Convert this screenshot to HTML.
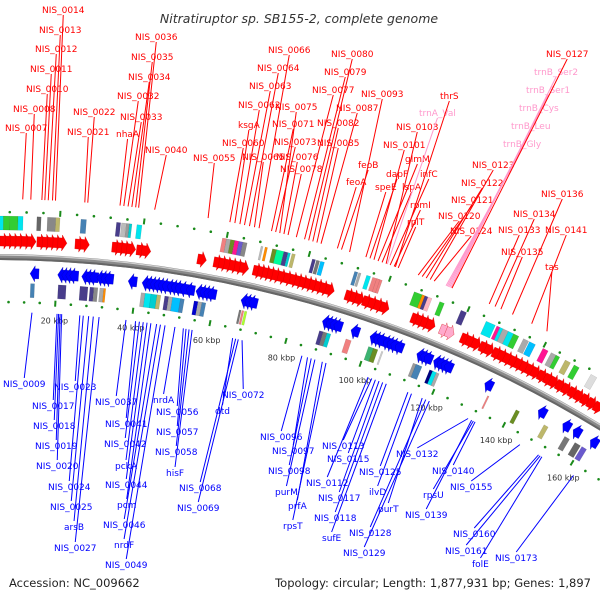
<!DOCTYPE html>
<html><head><meta charset="utf-8"><style>
html,body{margin:0;padding:0;background:#fff;}
svg{display:block;font-family:"DejaVu Sans","Liberation Sans",sans-serif;}
</style></head><body>
<svg id="map" width="600" height="600" viewBox="0 0 600 600" xmlns="http://www.w3.org/2000/svg">
<rect x="0" y="0" width="600" height="600" fill="#fff"/>
<text x="299" y="23" text-anchor="middle" font-size="12.5" font-style="italic" fill="#333">Nitratiruptor sp. SB155-2, complete genome</text>
<text x="9" y="587" font-size="11.5" fill="#222">Accession: NC_009662</text>
<text x="591" y="587" text-anchor="end" font-size="11.5" fill="#222">Topology: circular; Length: 1,877,931 bp; Genes: 1,897</text>
<g id="layer"></g>
</svg>
<script>
// ---- data ----
const fwdStarts=[5.7,7,8.3,9.6,11,12.3,14.7,16,17.3,18.6,19.8,24,25.3,33,34.2,35.4,36.6,39,40.3,54,58,59.3,60.6,61.9,63.2,64.5,67.8,69,70.2,71.4,72.6,74,75.5,77,78.3,79.5,80.8,82,83.3,84.6,86,91,92.3,93.6,95.5,97,98.5,100,108,109.3,110.6,112,121,122.5,124,126,127.5,129.5,131,132.5,134,135.5,137,138.5,140,141.8,143.5,145,146.8,148.5,150.3,152,153.8,155.6,157.4];
const fwdPinkStarts=[115.5,117];
const revStarts=[13.3,20.2,21.2,22.2,23.2,26.2,27.2,28.2,30,31,32,37.9,41.4,42.4,43.4,44.4,45.4,46.4,47.7,48.7,49.7,51,52.5,55,56,57,58,66.5,67.5,68.5,87.5,88.5,89.5,90.5,95,100,101,102,103.5,104.5,105.5,106.7,112.5,113.5,114.5,117,118,119,120,131,146,153,156,161];
const outerBoxStart=[3,5,6.5,8,10,14.5,17,19,25,33.5,34.7,35.8,36.6,38.4,59,60,61,62,63,64,68.4,69.4,71.2,72.2,74,75,76,81,82,83,91.5,92.5,94.5,96,97,106.5,108.5,109.2,110,113,118.5,125,127.8,128.6,129.4,130.8,132.2,134.8,136.4,140,142.2,143.5,146,148.4,153,157.5];
const outerBoxLen=[2,1.5,1.5,2,1.2,1,2,1,1.3,1,1,0.8,0.6,1.2,1,1,1,1,1,1,0.5,0.6,1.2,1.8,1,0.6,0.8,0.8,0.8,1,0.8,0.6,1,2.4,0.8,2.4,0.8,0.8,1,1.2,1.4,2.4,0.8,0.8,1.4,1.4,1.4,1.4,1.6,1.4,1.4,1,1.4,1.4,1.6,1.4];
const outerBoxColor=["#ff1493","#00e5ee","#32cd32","#32cd32","#00e5ee","#666","#888","#bdb76b","#4682b4","#483d8b","#bbb","#999","#00ced1","#00e5ee","#f08080","#aaa","#6b8e23","#ff1493","#6a5acd","#888","#bbb","#ff8c00","#6b8e23","#00fa9a","#483d8b","#00ced1","#bdb76b","#483d8b","#777","#00bfff","#4682b4","#aaa","#00e5ee","#f08080","#f08080","#32cd32","#ff8c00","#483d8b","#ffb6c1","#32cd32","#483d8b","#00e5ee","#ff1493","#00e5ee","#aaa","#00e5ee","#32cd32","#aaa","#00bfff","#ff1493","#aaa","#32cd32","#bdb76b","#32cd32","#ddd","#bdb76b"];
const innerBoxStart=[13.5,20.5,26,28.5,29.5,31,32,41.5,42.5,44,45.5,47.5,48.5,49.5,51.5,55,56,57,66.6,67.3,68,87.5,88.5,89.5,94.5,100.5,101.8,104,112.5,113.3,117,117.8,118.8,133,141,149,155,158,160];
const innerBoxLen=[1,2,2,1,1,1,0.5,1,1.6,1.6,1,1,1,2.4,1,1,1,1,0.5,0.5,0.6,1,1,1,1.4,1.4,1.2,0.4,1.6,1.6,1,1.2,0.8,0.4,1,1.2,1.4,1.6,1.4];
const innerBoxColor=["#4682b4","#483d8b","#483d8b","#483d8b","#888","#aaa","#ff8c00","#aaa","#00e5ee","#00ced1","#bdb76b","#483d8b","#aaa","#00bfff","#4682b4","#0000cd","#aaa","#4682b4","#777","#f08080","#adff2f","#483d8b","#777","#00ced1","#f08080","#3cb371","#6b8e23","#ccc","#999","#4682b4","#000080","#00e5ee","#aaa","#f08080","#6b8e23","#bdb76b","#777","#666","#6a5acd"];
const tickKbp=[20,40,60,80,100,120,140,160];
const tickLabels=["20 kbp","40 kbp","60 kbp","80 kbp","100 kbp","120 kbp","140 kbp","160 kbp"];

const topNames=["NIS_0007","NIS_0008","NIS_0010","NIS_0011","NIS_0012","NIS_0013","NIS_0014","NIS_0021","NIS_0022","nhaA","NIS_0033","NIS_0032","NIS_0034","NIS_0035","NIS_0036","NIS_0040","NIS_0055","NIS_0060","ksgA","NIS_0062","NIS_0063","NIS_0064","NIS_0065","NIS_0066","NIS_0071","NIS_0073","NIS_0075","NIS_0076","NIS_0078","NIS_0077","NIS_0079","NIS_0080","NIS_0082","NIS_0085","NIS_0087","NIS_0093","feoB","feoA","speE","dapF","NIS_0101","glmM","lspA","NIS_0103","trnA_Val","infC","rpmI","rplT","thrS","NIS_0120","NIS_0121","NIS_0122","NIS_0123","NIS_0124","trnB_Gly","trnB_Leu","trnB_Cys","trnB_Ser1","trnB_Ser2","NIS_0127","NIS_0133","NIS_0134","NIS_0135","NIS_0136","NIS_0141","tas"];
const topX=[5,13,26,30,35,39,42,67,73,116,120,117,128,131,135,145,193,222,238,238,249,257,242,268,272,274,275,276,280,312,324,331,317,317,336,361,358,346,375,386,383,405,402,396,419,420,410,407,440,438,451,461,472,450,503,511,519,526,534,546,498,513,501,541,545,545];
const topY=[131,112,92,72,52,33,13,135,115,137,120,99,80,60,40,153,161,146,128,108,89,71,160,53,127,145,110,160,172,93,75,57,126,146,111,97,168,185,190,177,148,162,190,130,116,177,208,225,99,219,203,186,168,234,147,129,111,93,75,57,233,217,255,197,233,270];
const topKbp=[11,12.9,15.5,16.2,17,18,18.7,25.6,26.3,33.9,35.8,34.8,36.7,37.6,38.3,42.1,54.8,60,61.2,62.4,63.5,64.7,65.9,67,70,71,72,73,74,76,78,79,80,81,82,89,87,86,93,94,95,96,97,98,98.3,99,100,101,100.3,106,107,108,109,110,113,113.3,113.6,113.9,114.2,114.5,124,125.5,127,130,135,139];

const botNames=["NIS_0009","NIS_0017","NIS_0018","NIS_0019","NIS_0020","NIS_0023","NIS_0024","NIS_0025","arsB","NIS_0027","NIS_0037","NIS_0041","NIS_0042","pckA","NIS_0044","pcm","NIS_0046","nrdF","NIS_0049","nrdA","NIS_0056","NIS_0057","NIS_0058","hisF","dtd","NIS_0068","NIS_0069","NIS_0072","NIS_0096","NIS_0097","NIS_0098","purM","prfA","rpsT","NIS_0112","NIS_0113","NIS_0115","NIS_0117","NIS_0118","sufE","NIS_0125","ilvD","purT","NIS_0128","NIS_0129","NIS_0132","NIS_0139","rpsU","NIS_0140","NIS_0155","NIS_0160","NIS_0161","folE","NIS_0173"];
const botX=[3,32,33,35,36,54,48,50,64,54,95,105,104,115,105,117,103,114,105,153,156,156,155,166,215,179,177,222,260,272,268,275,288,283,306,322,327,318,314,322,359,369,378,349,343,396,405,423,432,450,453,445,472,495];
const botY=[387,409,429,449,469,390,490,510,530,551,405,427,447,469,488,508,528,548,568,403,415,435,455,476,414,491,511,398,440,454,474,495,509,529,486,449,462,501,521,541,475,495,512,536,556,457,518,498,474,490,537,554,567,561];
const botKbp=[14.1,20.6,21,21.4,21.8,26.5,27.4,28.8,30,31.5,38.5,41,42,43,44,45,46.5,47.5,48.7,51.3,53.5,54.2,55,55.8,66.5,67.3,68,69,85,86.5,87.5,88.5,90.5,91.5,103,104,105,106,107,108,114,115,118,119,120,131,132,132.5,133,146,151.5,152,152.5,162];

// ---- geometry ----
const R=1168, CX=-7, CY=1425;
function P(k,r){const a=(-0.8+0.199*k)*Math.PI/180;return [CX+r*Math.sin(a),CY-r*Math.cos(a)];}
function pts(list){return list.map(p=>p[0].toFixed(1)+','+p[1].toFixed(1)).join(' ');}
const NS='http://www.w3.org/2000/svg';
const layer=document.getElementById('layer');
function mk(tag,attrs){const e=document.createElementNS(NS,tag);for(const k in attrs)e.setAttribute(k,attrs[k]);layer.appendChild(e);return e;}

// backbone
const a0=P(-6,R),a1=P(172,R);
let bb=mk('path',{d:`M${a0[0]},${a0[1]} A${R},${R} 0 0 1 ${a1[0]},${a1[1]}`,fill:'none',stroke:'#8a8a8a','stroke-width':6});


const b0=P(-6,R-2),b1=P(172,R-2);
let bb2=mk('path',{d:`M${b0[0]},${b0[1]} A${R-2},${R-2} 0 0 1 ${b1[0]},${b1[1]}`,fill:'none',stroke:'#666','stroke-width':2});


const c0=P(-6,R+2),c1=P(172,R+2);
let bb3=mk('path',{d:`M${c0[0]},${c0[1]} A${R+2},${R+2} 0 0 1 ${c1[0]},${c1[1]}`,fill:'none',stroke:'#d0d0d0','stroke-width':1.2});



// ticks
for(let k=0;k<=172;k+=4){
  const big=(k%20===0);
  [R+45,R-45].forEach(r=>{
    let e;
    if(big){const p=P(k,r-3),q=P(k,r+3);e=mk('line',{x1:p[0],y1:p[1],x2:q[0],y2:q[1],stroke:'#1a8a1a','stroke-width':2});}
    else{const p=P(k,r);e=mk('circle',{cx:p[0],cy:p[1],r:1.3,fill:'#1a8a1a'});}
    
    
  });
}
tickKbp.forEach((k,i)=>{const p=P(k,R-62);const t=mk('text',{x:p[0],y:p[1]+3,'text-anchor':'middle','font-size':8,fill:'#333'});t.textContent=tickLabels[i];
  
  });

// boxes
function box(k,len,r0,r1,col,name){
  const e=mk('polygon',{points:pts([P(k,r0),P(k+len,r0),P(k+len,r1),P(k,r1)]),fill:col,stroke:'rgba(0,0,0,0.15)','stroke-width':0.5});
  
  
}
outerBoxStart.forEach((k,i)=>box(k,outerBoxLen[i],R+27,R+41,outerBoxColor[i],'forward-feature-box'));
innerBoxStart.forEach((k,i)=>box(k,innerBoxLen[i],R-26,R-40,innerBoxColor[i],'reverse-feature-box'));

// arrows
const L=2.2,H=1.2;
function fwd(k,col,name){
  const b=k+L;
  const e=mk('polygon',{points:pts([P(k,R+11),P(b-H,R+11),P(b-H,R+8),P(b,R+16),P(b-H,R+24),P(b-H,R+21),P(k,R+21)]),fill:col,stroke:'#c00','stroke-width':0.3});
  
  
}
function rev(k){
  const b=k+L;
  const e=mk('polygon',{points:pts([P(b,R-11),P(k+H,R-11),P(k+H,R-8),P(k,R-16),P(k+H,R-24),P(k+H,R-21),P(b,R-21)]),fill:'#0000ff',stroke:'#00a','stroke-width':0.3});
  
  
}
fwdStarts.forEach(k=>fwd(k,'#ff0000','forward-gene-arrow'));
fwdPinkStarts.forEach(k=>fwd(k,'#ffaacc','forward-rna-arrow'));
revStarts.forEach(k=>rev(k));

// labels
topNames.forEach((n,i)=>{
  const col=n.startsWith('trn')?'#ff99cc':'#ff0000';
  const t=mk('text',{x:topX[i],y:topY[i],'font-size':9,fill:col});t.textContent=n;
  
  
  const w=t.getComputedTextLength?t.getComputedTextLength():n.length*5.3;
  const e=P(topKbp[i],R+58);
  const l=mk('line',{x1:topX[i]+w/2,y1:topY[i]+2,x2:e[0],y2:e[1],stroke:col,'stroke-width':1});
  
  
});
botNames.forEach((n,i)=>{
  const t=mk('text',{x:botX[i],y:botY[i],'font-size':9,fill:'#0000ff'});t.textContent=n;
  
  
  const w=t.getComputedTextLength?t.getComputedTextLength():n.length*5.3;
  const e=P(botKbp[i],R-55);
  const l=mk('line',{x1:botX[i]+w/2,y1:botY[i]-9,x2:e[0],y2:e[1],stroke:'#0000ff','stroke-width':1});
  
  
});
</script>
</body></html>
